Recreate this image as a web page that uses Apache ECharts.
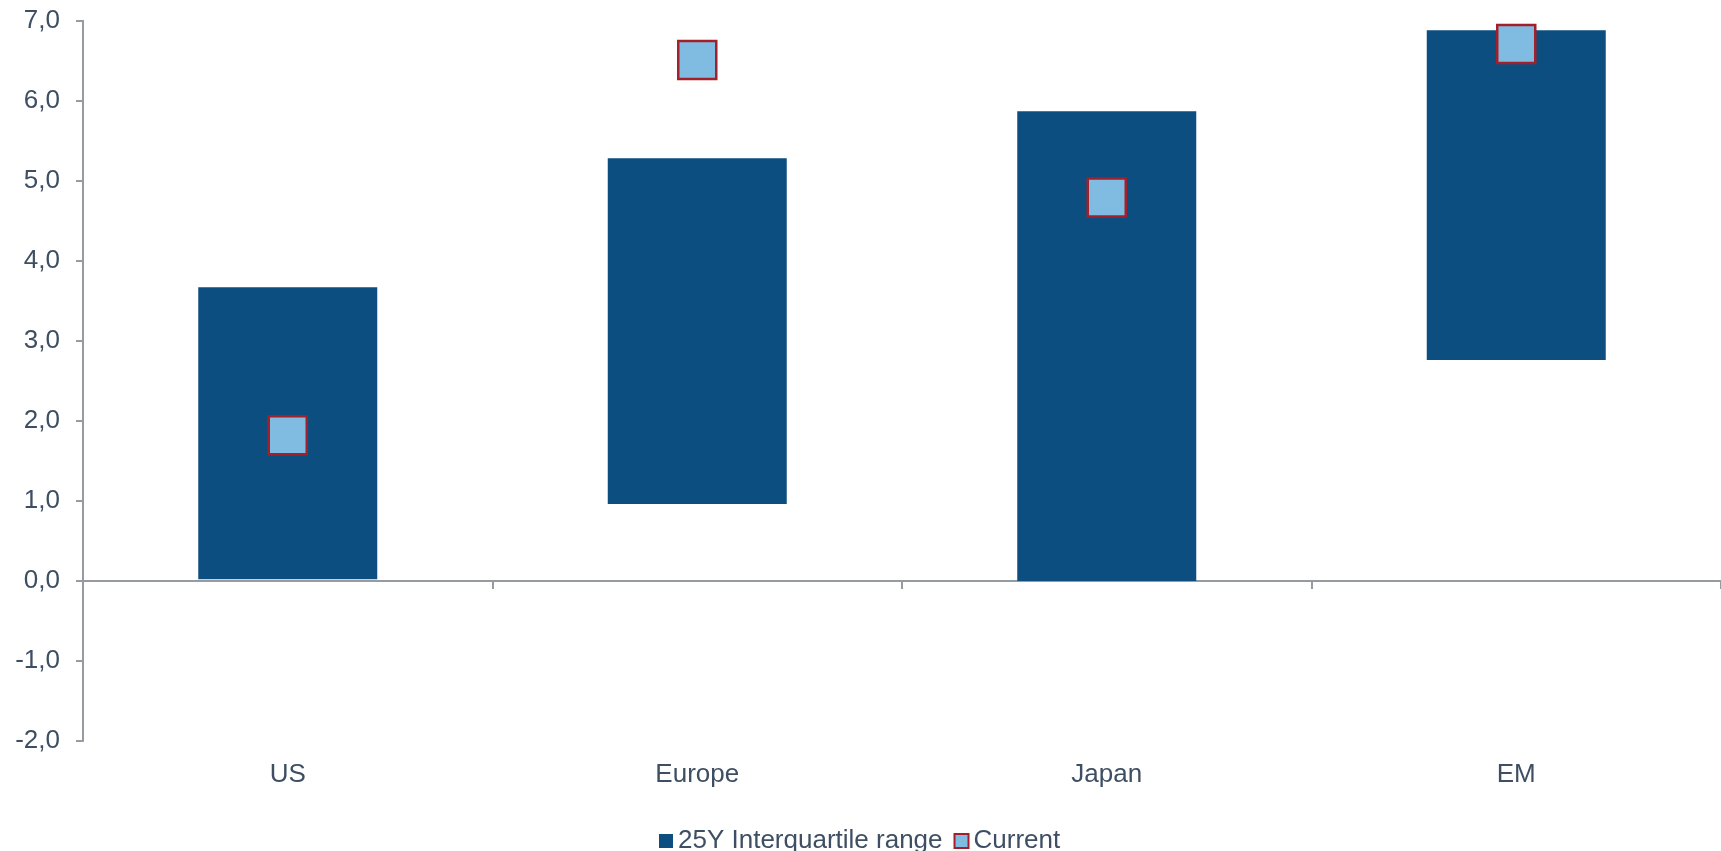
<!DOCTYPE html>
<html>
<head>
<meta charset="utf-8">
<script src="https://cdn.jsdelivr.net/npm/echarts@6/dist/echarts.min.js"></script>
<style>
html,body{margin:0;padding:0;background:#fff;}
#chart{width:1721px;height:851px;}
</style>
</head>
<body>
<div id="chart"></div>
<script>
const categories = ['US', 'Europe', 'Japan', 'EM'];
const rangeLow = [0.02, 0.96, 0.0, 2.76];
const rangeHigh = [3.67, 5.28, 5.87, 6.88];
const current = [1.82, 6.51, 4.79, 6.71];
const yTickValues = [-2, -1, 0, 1, 2, 3, 4, 5, 6, 7];
const yTickLabels = ['-2,0', '-1,0', '0,0', '1,0', '2,0', '3,0', '4,0', '5,0', '6,0', '7,0'];

const textColor = '#3E4F63';
const axisColor = '#959ba1';
const barColor = '#0C4E80';
const font = 'Liberation Sans, Arial, sans-serif';

const chart = echarts.init(document.getElementById('chart'));
chart.setOption({
  animation: false,
  backgroundColor: '#ffffff',
  textStyle: { fontFamily: font },
  grid: { left: 83, right: 0, top: 20.7, bottom: 110, containLabel: false },
  legend: {
    data: [
      { name: '25Y Interquartile range', icon: 'rect' },
      { name: 'Current', icon: 'rect' }
    ],
    left: 654, top: 823,
    itemWidth: 14, itemHeight: 14, itemGap: 11,
    textStyle: { color: textColor, fontSize: 26, fontFamily: font }
  },
  xAxis: [
    {
      type: 'category', data: categories, position: 'bottom',
      axisLine: { onZero: true, lineStyle: { color: axisColor, width: 2 } },
      axisTick: { show: true, length: 8, lineStyle: { color: axisColor, width: 2 } },
      axisLabel: { show: false }
    },
    {
      type: 'category', data: categories, position: 'bottom',
      axisLine: { show: false, onZero: false },
      axisTick: { show: false },
      axisLabel: { show: true, color: textColor, fontSize: 26, fontFamily: font, margin: 21 }
    }
  ],
  yAxis: {
    type: 'value', min: -2, max: 7, interval: 1,
    splitLine: { show: false },
    axisLine: { show: true, lineStyle: { color: axisColor, width: 2 } },
    axisTick: { show: true, length: 7, lineStyle: { color: axisColor, width: 2 } },
    axisLabel: {
      color: textColor, fontSize: 26, fontFamily: font, margin: 23,
      formatter: function (v) {
        const i = yTickValues.indexOf(Math.round(v));
        return i >= 0 ? yTickLabels[i] : '';
      }
    }
  },
  series: [
    {
      name: 'base', type: 'bar', stack: 'r', barWidth: 179,
      itemStyle: { color: 'rgba(0,0,0,0)' },
      data: rangeLow, silent: true, z: 1
    },
    {
      name: '25Y Interquartile range', type: 'bar', stack: 'r', barWidth: 179,
      itemStyle: { color: barColor },
      data: rangeHigh.map((h, i) => +(h - rangeLow[i]).toFixed(4)), z: 2
    },
    {
      name: 'Current', type: 'scatter', symbol: 'rect', symbolSize: 38,
      itemStyle: { color: '#80BCE1', borderColor: '#A3202A', borderWidth: 2.5, opacity: 1 },
      data: current, z: 5
    }
  ]
});
</script>
</body>
</html>
